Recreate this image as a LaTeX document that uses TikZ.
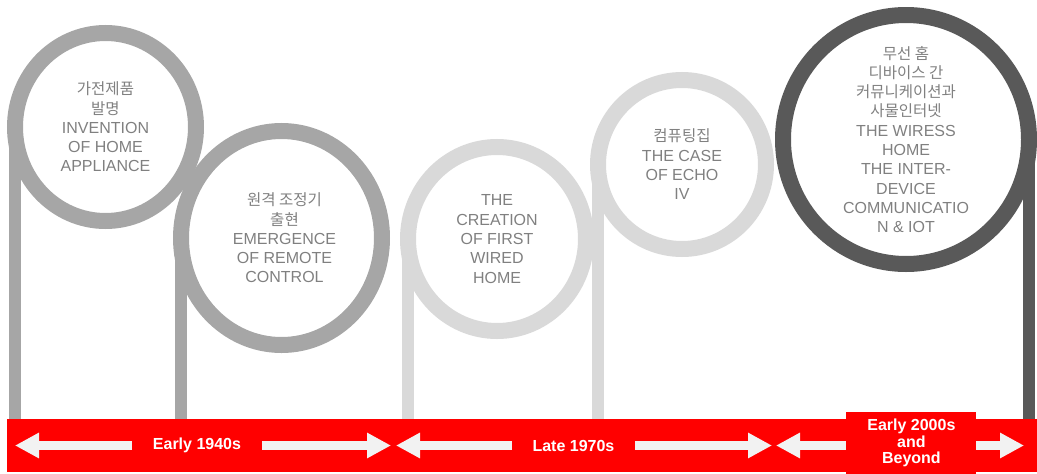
\documentclass[tikz,border=0pt]{standalone}
\usepackage{fontspec}
\setmainfont{Liberation Sans}
\newfontfamily\kr[Scale=0.97]{Noto Sans CJK KR}
\usepackage{tikz}
\usetikzlibrary{arrows.meta,shapes.geometric}
\definecolor{midgray}{HTML}{A6A6A6}
\definecolor{lightgray}{HTML}{D9D9D9}
\definecolor{darkgray}{HTML}{595959}
\definecolor{txtgray}{HTML}{808080}
\definecolor{arrowwhite}{HTML}{F2F2F2}
\newcommand{\ringwidth}{16pt}
\newcommand{\stemwidth}{12pt}
\newcommand{\tipsize}{24pt}

\begin{document}
\begin{tikzpicture}[x=1pt, y=-1pt,
  ring/.style={ellipse, draw, line width=\ringwidth, inner sep=0pt, outer sep=0pt},
  stem/.style={line width=\stemwidth},
  txt/.style={align=center, text=txtgray, font=\fontsize{16}{19.3}\selectfont},
  timeline/.style={draw=arrowwhite, line width=9pt,
    {Triangle[length=\tipsize, width=\tipsize]}-{Triangle[length=\tipsize, width=\tipsize]}},
  era/.style={fill=red, text=white, align=center, inner xsep=21pt, inner ysep=4pt,
    font=\bfseries\fontsize{16}{16.3}\selectfont}]
\useasboundingbox (0, 0) rectangle (1037, 474);
%bar
\node[fill=red, inner sep=0pt] (bar) at (522.0, 445.5) [minimum width=1030pt, minimum height=53pt] {};
%rings
\node[ring, draw=midgray] (r1) at (105.5, 127.0) [minimum width=181pt, minimum height=188pt] {};
\node[ring, draw=midgray] (r2) at (281.5, 238.0) [minimum width=201pt, minimum height=214pt] {};
\node[ring, draw=lightgray] (r3) at (497.0, 239.0) [minimum width=178pt, minimum height=184pt] {};
\node[ring, draw=lightgray] (r4) at (682.0, 164.5) [minimum width=168pt, minimum height=169pt] {};
\node[ring, draw=darkgray] (r5) at (906.0, 139.5) [minimum width=246pt, minimum height=249pt] {};
%stems
\draw[stem, midgray, xshift=-2pt] (r1.west) -- (r1.west |- bar.north);
\draw[stem, midgray, xshift=2pt] (r2.west) -- (r2.west |- bar.north);
\draw[stem, lightgray, xshift=2pt] (r3.west) -- (r3.west |- bar.north);
\draw[stem, lightgray, xshift=2pt] (r4.west) -- (r4.west |- bar.north);
\draw[stem, darkgray, xshift=2pt] (r5.east) -- (r5.east |- bar.north);
%texts
\node[txt] (t1) at (r1.center) {{\kr 가전제품}\\{\kr 발명}\\INVENTION\\OF HOME\\APPLIANCE};
\node[txt] (t2) at ([xshift=3pt]r2.center) {{\kr 원격 조정기}\\{\kr 출현}\\EMERGENCE\\OF REMOTE\\CONTROL};
\node[txt] (t3) at (r3.center) {THE\\CREATION\\OF FIRST\\WIRED\\HOME};
\node[txt] (t4) at (r4.center) {{\kr 컴퓨팅집}\\THE CASE\\OF ECHO\\IV};
\node[txt] (t5) at (r5.center) {{\kr 무선 홈}\\{\kr 디바이스 간}\\{\kr 커뮤니케이션과}\\{\kr 사물인터넷}\\THE WIRESS\\HOME\\THE INTER-\\DEVICE\\COMMUNICATIO\\N \& IOT};
%arrows
\coordinate (a1) at (15.0, 445.5);
\coordinate (b1) at (391.0, 445.5);
\coordinate (a2) at (396.0, 445.5);
\coordinate (b2) at (772.0, 445.5);
\coordinate (a3) at (776.0, 445.5);
\coordinate (b3) at (1024.0, 445.5);
\draw[timeline] (a1) -- node[era, pos=0.484] (e1) {Early 1940s} (b1);
\draw[timeline] (a2) -- node[era, pos=0.472] (e2) {Late 1970s} (b2);
\draw[timeline] (a3) -- node[era, pos=0.546, yshift=2.5pt, minimum height=62pt] (e3) {Early 2000s\\and\\Beyond} (b3);
\end{tikzpicture}
\end{document}
